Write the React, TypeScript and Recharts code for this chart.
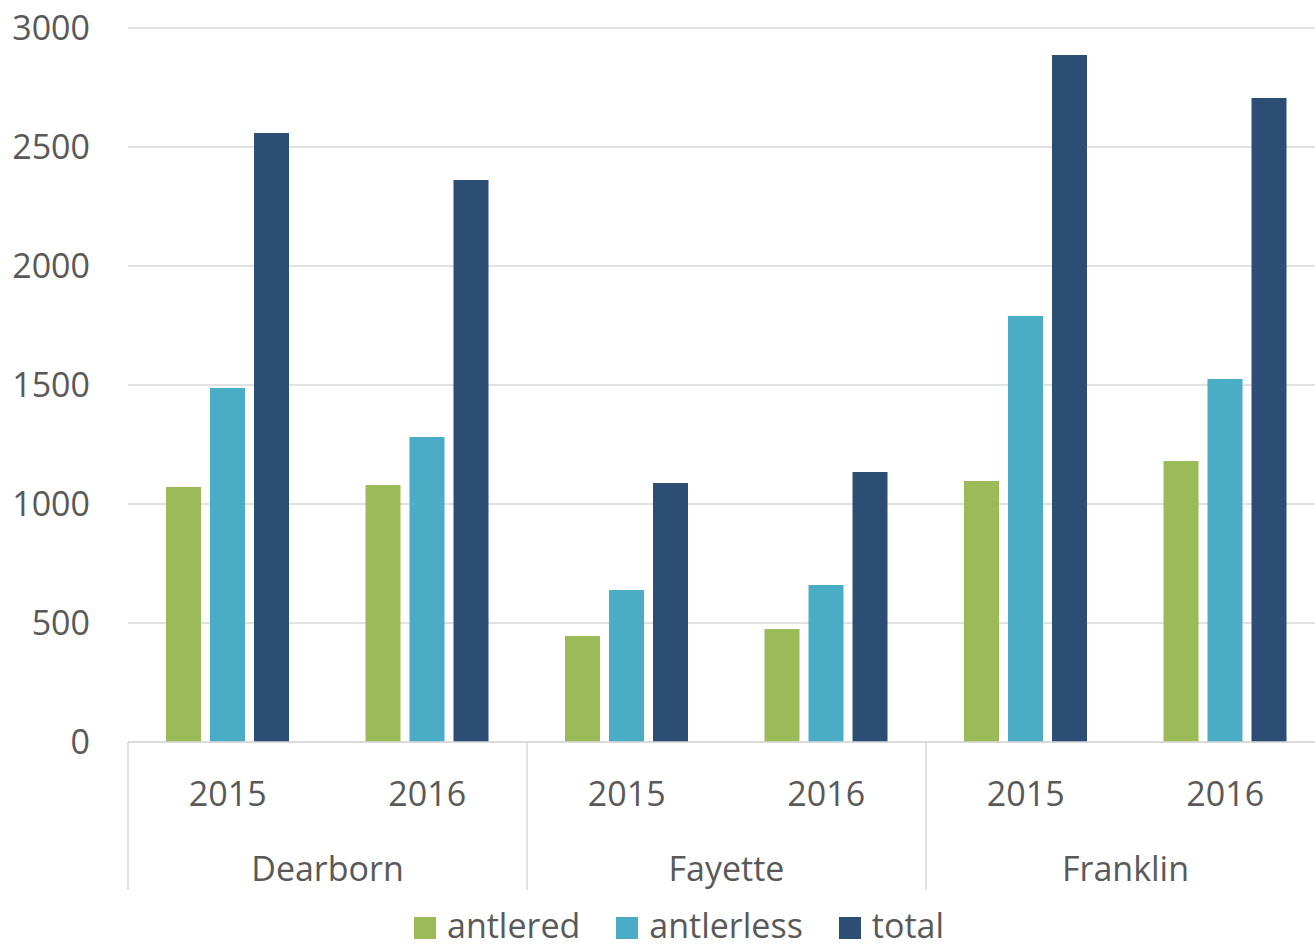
import React from "react";
import { BarChart, Bar, XAxis, YAxis, CartesianGrid, Legend } from "recharts";

const counties = ["Dearborn", "Dearborn", "Fayette", "Fayette", "Franklin", "Franklin"];
const years = ["2015", "2016", "2015", "2016", "2015", "2016"];
const antlered = [1071, 1080, 445, 475, 1097, 1181];
const antlerless = [1487, 1281, 639, 660, 1790, 1525];
const total = [2559, 2361, 1088, 1134, 2887, 2706];
const yTicks = [0, 500, 1000, 1500, 2000, 2500, 3000];

const seriesNames = ["antlered", "antlerless", "total"];
const colors = ["#9BBB59", "#4BACC6", "#2C4E75"];

const data = years.map((y, i) => ({
  key: `${counties[i]}-${y}`,
  year: y,
  county: counties[i],
  antlered: antlered[i],
  antlerless: antlerless[i],
  total: total[i],
}));

const FONT = "'Open Sans', 'Noto Sans', sans-serif";
const TEXT = "#595959";
const GRID = "#D9D9D9";
const CAT_W = 199.5;

const XTick = (props: any) => {
  const { x, y, index } = props;
  const d = data[index];
  const showCounty = index % 2 === 0;
  return (
    <g>
      <text x={x} y={y + 51} textAnchor="middle" dominantBaseline="central" fill={TEXT} fontSize={34} fontFamily={FONT}>
        {d.year}
      </text>
      {showCounty && (
        <>
          <line x1={x - CAT_W / 2} x2={x - CAT_W / 2} y1={y} y2={y + 148} stroke={GRID} strokeWidth={1.5} />
          <text x={x + CAT_W / 2} y={y + 126} textAnchor="middle" dominantBaseline="central" fill={TEXT} fontSize={34} fontFamily={FONT}>
            {d.county}
          </text>
        </>
      )}
      {index === data.length - 1 && (
        <line x1={x + CAT_W / 2} x2={x + CAT_W / 2} y1={y} y2={y + 148} stroke={GRID} strokeWidth={1.5} />
      )}
    </g>
  );
};

const LegendContent = () => (
  <div style={{ display: "flex", alignItems: "center", paddingLeft: 414, fontFamily: FONT, fontSize: 34, color: TEXT, lineHeight: "40px" }}>
    {seriesNames.map((n, i) => (
      <div key={n} style={{ display: "flex", alignItems: "center", marginRight: 36 }}>
        <span style={{ display: "inline-block", width: 22, height: 22, background: colors[i], marginRight: 11, marginTop: 6 }} />
        <span>{n}</span>
      </div>
    ))}
  </div>
);

export default function App() {
  return (
    <div style={{ position: "absolute", top: 0, left: 0, width: 1315, height: 947, overflow: "hidden", background: "#fff" }}>
      <BarChart
        width={1330}
        height={947}
        data={data}
        margin={{ top: 28, right: 5, left: 0, bottom: 57 }}
        barCategoryGap={38}
        barGap={9}
      >
        <CartesianGrid vertical={false} stroke={GRID} strokeWidth={1.5} />
        <YAxis
          width={128}
          domain={[0, 3000]}
          ticks={yTicks}
          axisLine={false}
          tickLine={false}
          tickSize={0}
          tickMargin={38}
          tick={{ fill: TEXT, fontSize: 34, fontFamily: FONT }}
          interval={0}
        />
        <XAxis
          dataKey="key"
          height={148}
          axisLine={{ stroke: GRID, strokeWidth: 1.5 }}
          tickLine={false}
          tickSize={0}
          tickMargin={0}
          interval={0}
          tick={<XTick />}
        />
        <Legend
          layout="horizontal"
          verticalAlign="middle"
          align="center"
          content={<LegendContent />}
          wrapperStyle={{ top: 905, left: 0, width: 1315 }}
        />
        {seriesNames.map((n, i) => (
          <Bar key={n} dataKey={n} fill={colors[i]} barSize={35} isAnimationActive={false} />
        ))}
      </BarChart>
    </div>
  );
}
